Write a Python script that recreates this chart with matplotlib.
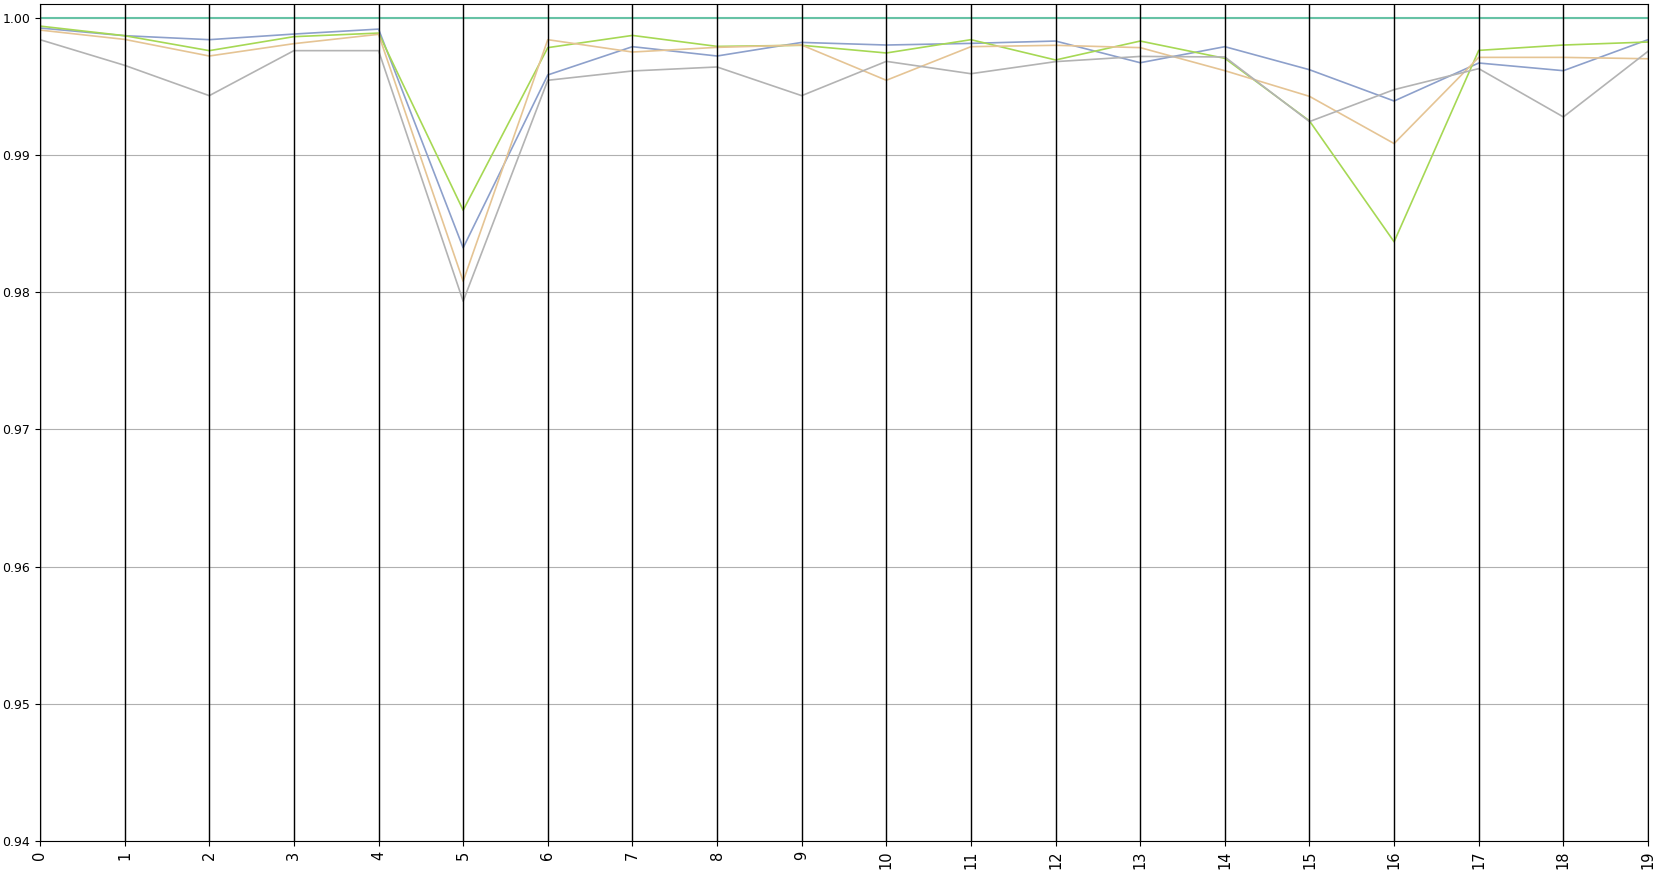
import matplotlib
matplotlib.use("Agg")
import matplotlib.pyplot as plt
import numpy as np

x_labels = [str(i) for i in range(20)]

teal = [1.0] * 20
blue = [0.99925, 0.99869, 0.99840, 0.99881, 0.99917, 0.98323, 0.99583, 0.99789, 0.99721, 0.99820,
        0.99801, 0.99813, 0.99830, 0.99672, 0.99789, 0.99621, 0.99393, 0.99670, 0.99614, 0.99840]
green = [0.99939, 0.99869, 0.99760, 0.99862, 0.99888, 0.98597, 0.99782, 0.99871, 0.99791, 0.99799,
         0.99743, 0.99840, 0.99692, 0.99830, 0.99704, 0.99248, 0.98367, 0.99762, 0.99801, 0.99823]
tan = [0.99910, 0.99842, 0.99721, 0.99811, 0.99879, 0.98080, 0.99840, 0.99750, 0.99784, 0.99801,
       0.99544, 0.99789, 0.99799, 0.99782, 0.99614, 0.99427, 0.99083, 0.99711, 0.99711, 0.99701]
grey = [0.99840, 0.99653, 0.99432, 0.99760, 0.99760, 0.97934, 0.99544, 0.99612, 0.99641, 0.99432,
        0.99682, 0.99592, 0.99680, 0.99718, 0.99714, 0.99243, 0.99476, 0.99629, 0.99277, 0.99755]

series = [teal, blue, green, tan, grey]
colors = ["#66c2a5", "#8da0cb", "#a6d854", "#e5c494", "#b3b3b3"]

fig = plt.figure(figsize=(16.58, 8.72), dpi=100)
ax = fig.add_axes([40/1658, 31/872, 1608/1658, 837/872])

xs = np.arange(len(x_labels))
for s, c in zip(series, colors):
    ax.plot(xs, s, color=c, lw=1.5 if c == "#66c2a5" else 1.2)

for xi in xs:
    ax.axvline(xi, color="black", lw=1.0)

ax.set_xticks(xs)
ax.set_xticklabels(x_labels, rotation=90, fontsize=10.5)
ax.set_xlim(0, 19)
ax.set_ylim(0.94, 1.001)
ax.set_yticks([0.94, 0.95, 0.96, 0.97, 0.98, 0.99, 1.00])
ax.set_yticklabels(["0.94", "0.95", "0.96", "0.97", "0.98", "0.99", "1.00"], fontsize=9)
ax.grid(True, color="#b0b0b0", lw=0.8)
ax.set_axisbelow(True)

fig.savefig("out.png", dpi=100)
